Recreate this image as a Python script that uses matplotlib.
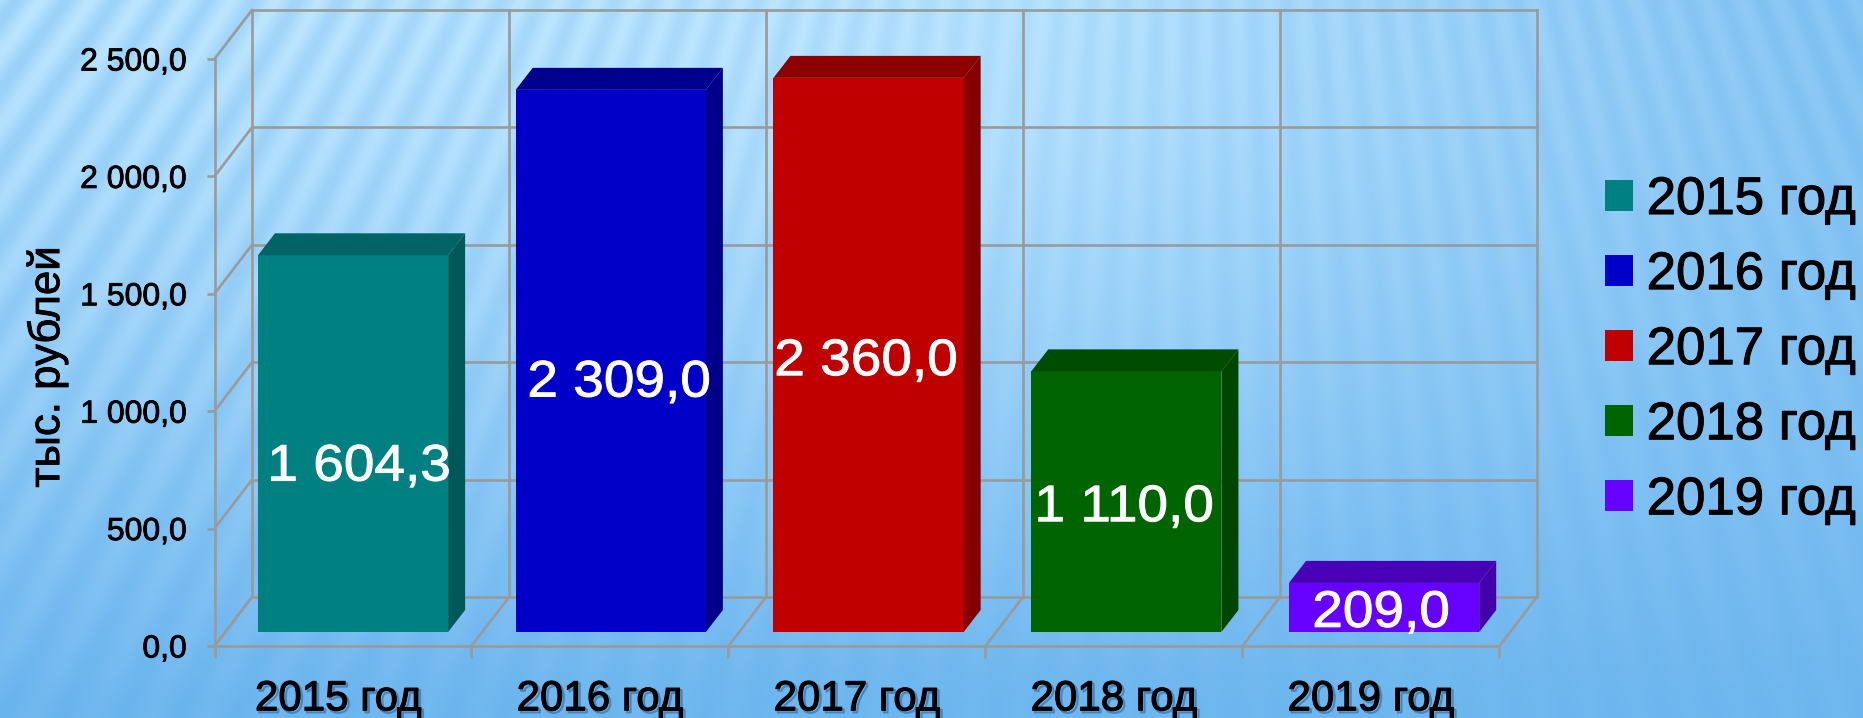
import numpy as np
import matplotlib
matplotlib.use("Agg")
import matplotlib.pyplot as plt
from matplotlib.patches import Polygon
from matplotlib.transforms import Affine2D
from matplotlib import font_manager as fm
import matplotlib.patheffects as pe

categories = ["2015 год", "2016 год", "2017 год", "2018 год", "2019 год"]
values = [1604.3, 2309.0, 2360.0, 1110.0, 209.0]
value_labels = ["1 604,3", "2 309,0", "2 360,0", "1 110,0", "209,0"]
y_ticks = [0, 500, 1000, 1500, 2000, 2500]
y_tick_labels = ["0,0", "500,0", "1 000,0", "1 500,0", "2 000,0", "2 500,0"]
y_title = "тыс. рублей"
front_colors = ["#008080", "#0000C8", "#C00000", "#006400", "#6600FF"]
side_colors = ["#005858", "#00008A", "#860000", "#004600", "#4400A8"]
top_colors = ["#006464", "#00008E", "#8C0000", "#004C00", "#4A00B8"]

W, H = 1863, 718
plt.rcParams["font.family"] = ["Liberation Sans", "DejaVu Sans"]


class StretchX(pe.AbstractPathEffect):
    """Widen glyph outlines about the centre of the string."""
    def __init__(self, sx, stroke=0.0):
        super().__init__()
        self.sx = sx
        self.stroke = stroke

    def draw_path(self, renderer, gc, tpath, affine, rgbFace=None):
        v = tpath.vertices[:, 0]
        mid = (v.min() + v.max()) / 2
        t = Affine2D().translate(-mid, 0).scale(self.sx, 1).translate(mid, 0) + affine
        gc0 = renderer.new_gc()
        gc0.copy_properties(gc)
        gc0.set_linewidth(self.stroke)
        gc0.set_foreground(rgbFace)
        renderer.draw_path(gc0, tpath, t, rgbFace)
        gc0.restore()


fig = plt.figure(figsize=(W / 100, H / 100), dpi=100)

# background: blue gradient with a fan of soft stripes
bg = fig.add_axes([0, 0, 1, 1], zorder=0)
bg.axis("off")
yy, xx = np.mgrid[0:H, 0:W]
ty = np.clip(yy / 700, 0, 1)
tx = np.clip((xx - 1050) / 800, 0, 1)
fade = np.clip(1 - np.hypot((xx - 850) / 1000, (yy - 120) / 500), 0, 1)
mix = 0.80 - 0.75 * ty ** 1.4 - 0.50 * tx * (1 - ty) + 0.15 * fade
theta = np.arctan2(xx - 1197, yy + 1540)
stripes = np.sin(theta * 300)
amp = (0.05 + 0.15 * (1 - ty) ** 1.2) * (1 - 0.6 * np.clip(xx / 1000, 0, 1))
mix = np.clip(mix + amp * stripes, 0, 1)
light = np.array([186, 228, 255]) / 255
dark = np.array([106, 180, 238]) / 255
img = dark[None, None, :] * (1 - mix[..., None]) + light[None, None, :] * mix[..., None]
bg.imshow(img, aspect="auto", interpolation="bilinear")

# main axes: x = category units, y = values
x0, x1, y0, y1 = 214.5, 1499.5, 646, 59
ax = fig.add_axes([x0 / W, 1 - y0 / H, (x1 - x0) / W, (y0 - y1) / H], zorder=1)
ax.patch.set_alpha(0)
ax.set_xlim(0, 5)
ax.set_ylim(0, 2500)

px_x = (x1 - x0) / 5
px_y = (y0 - y1) / 2500
wall_dx, wall_dy = 37.5 / px_x, 49 / px_y
bar_dx, bar_dy = 17 / px_x, 22 / px_y
floor = 14 / px_y
grid = "#9A9A9A"
glw = 1.9
kw = dict(color=grid, lw=glw, zorder=1, clip_on=False, solid_capstyle="projecting")

for t in y_ticks:
    ax.plot([0, wall_dx], [t, t + wall_dy], **kw)
    ax.plot([wall_dx, 5 + wall_dx], [t + wall_dy, t + wall_dy], **kw)
for i in range(6):
    ax.plot([i + wall_dx, i + wall_dx], [wall_dy, 2500 + wall_dy], **kw)
    ax.plot([i, i + wall_dx], [0, wall_dy], **kw)

width = 0.74
pos = 0.539 + 1.003 * np.arange(5)
bars = ax.bar(pos, values, width=width, bottom=floor, color=front_colors, zorder=3)
for p, v, s, t in zip(pos, values, side_colors, top_colors):
    l, r_, b, h = p - width / 2, p + width / 2, floor, floor + v
    ax.add_patch(Polygon([(r_, b), (r_ + bar_dx, b + bar_dy), (r_ + bar_dx, h + bar_dy), (r_, h)],
                         fc=s, ec="none", zorder=3, clip_on=False))
    ax.add_patch(Polygon([(l, h), (l + bar_dx, h + bar_dy), (r_ + bar_dx, h + bar_dy), (r_, h)],
                         fc=t, ec="none", zorder=3, clip_on=False))

label_x = [0.562, 1.574, 2.535, 3.539, 4.539]
label_y = [762, 1120, 1211, 589, 139]
for lx, ly, s in zip(label_x, label_y, value_labels):
    ax.text(lx, ly, s, color="white", fontsize=37, ha="center", va="center", zorder=5,
            path_effects=[StretchX(1.07, stroke=0.7)])

for sp in ("top", "right"):
    ax.spines[sp].set_visible(False)
for sp in ("left", "bottom"):
    ax.spines[sp].set_color(grid)
    ax.spines[sp].set_linewidth(glw)
    ax.spines[sp].set_zorder(2)

heavy = [pe.Stroke(linewidth=0.6, foreground="black"), pe.Normal()]

ax.set_yticks(y_ticks, y_tick_labels, fontsize=23)
ax.tick_params(axis="y", length=6, width=glw, color=grid, pad=14, labelcolor="black")
for lab in ax.get_yticklabels():
    lab.set_path_effects(heavy)

ax.set_xticks(range(6), [""] * 6)
ax.tick_params(axis="x", which="major", length=8.5, width=glw, color=grid)
ax.set_xticks([0.482, 1.5, 2.5, 3.5, 4.5], categories, minor=True, fontsize=30.3)
ax.tick_params(axis="x", which="minor", length=0, pad=24, labelcolor="black")
for lab in ax.get_xticklabels(minor=True):
    lab.set_path_effects([
        pe.SimpleLineShadow(offset=(1.5, -1.5), shadow_color="#1c4a78", alpha=0.45, linewidth=1.5),
        pe.Stroke(linewidth=0.8, foreground="black"), pe.Normal()])

fig.text(47 / W, 1 - 367 / H, y_title, rotation=90, fontsize=31.5, ha="center", va="center",
         path_effects=heavy)

leg = ax.legend(bars, categories, loc="upper left", frameon=False,
                bbox_to_anchor=(1605 / W, 1 - 175 / H), bbox_transform=fig.transFigure,
                prop=fm.FontProperties(family=["Liberation Sans", "DejaVu Sans"], size=38),
                handlelength=0.53, handleheight=0.53, handletextpad=0.26,
                labelspacing=0.475, borderpad=0, borderaxespad=0)
for t in leg.get_texts():
    t.set_path_effects([pe.Stroke(linewidth=0.8, foreground="black"), pe.Normal()])

fig.savefig("out.png", dpi=100)
